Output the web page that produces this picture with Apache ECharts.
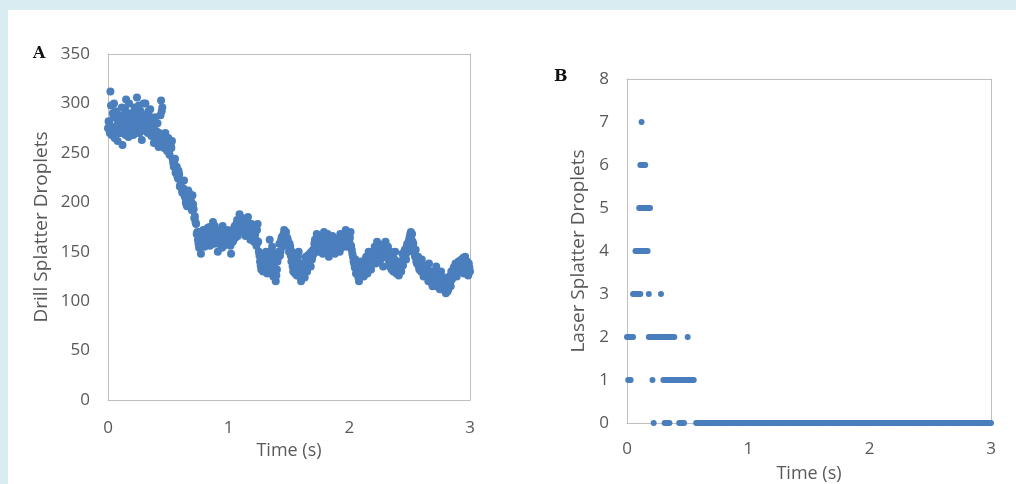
<!DOCTYPE html>
<html>
<head>
<meta charset="utf-8">
<script src="https://cdn.jsdelivr.net/npm/echarts@6/dist/echarts.min.js"></script>
<style>
html,body{margin:0;padding:0;width:1016px;height:484px;overflow:hidden;background:#d8ecf2;}
#bgw{position:absolute;left:8px;top:10px;width:1008px;height:474px;background:#ffffff;}
#chart{position:absolute;left:0;top:0;width:1016px;height:484px;}
</style>
</head>
<body>
<div id="bgw"></div>
<div id="chart"></div>
<script>
// ---------- Panel A: drill splatter droplets ----------
const drillTime = [
0.00,0.01,0.02,0.03,0.04,0.05,0.06,0.07,0.08,0.09,
0.10,0.11,0.12,0.13,0.14,0.15,0.16,0.17,0.18,0.19,
0.20,0.21,0.22,0.23,0.24,0.25,0.26,0.27,0.28,0.29,
0.30,0.31,0.32,0.33,0.34,0.35,0.36,0.37,0.38,0.39,
0.40,0.41,0.42,0.43,0.44,0.45,0.46,0.47,0.48,0.49,
0.50,0.51,0.52,0.53,0.54,0.55,0.56,0.57,0.58,0.59,
0.60,0.61,0.62,0.63,0.64,0.65,0.66,0.67,0.68,0.69,
0.70,0.71,0.72,0.73,0.74,0.75,0.76,0.77,0.78,0.79,
0.80,0.81,0.82,0.83,0.84,0.85,0.86,0.87,0.88,0.89,
0.90,0.91,0.92,0.93,0.94,0.95,0.96,0.97,0.98,0.99,
1.00,1.01,1.02,1.03,1.04,1.05,1.06,1.07,1.08,1.09,
1.10,1.11,1.12,1.13,1.14,1.15,1.16,1.17,1.18,1.19,
1.20,1.21,1.22,1.23,1.24,1.25,1.26,1.27,1.28,1.29,
1.30,1.31,1.32,1.33,1.34,1.35,1.36,1.37,1.38,1.39,
1.40,1.41,1.42,1.43,1.44,1.45,1.46,1.47,1.48,1.49,
1.50,1.51,1.52,1.53,1.54,1.55,1.56,1.57,1.58,1.59,
1.60,1.61,1.62,1.63,1.64,1.65,1.66,1.67,1.68,1.69,
1.70,1.71,1.72,1.73,1.74,1.75,1.76,1.77,1.78,1.79,
1.80,1.81,1.82,1.83,1.84,1.85,1.86,1.87,1.88,1.89,
1.90,1.91,1.92,1.93,1.94,1.95,1.96,1.97,1.98,1.99,
2.00,2.01,2.02,2.03,2.04,2.05,2.06,2.07,2.08,2.09,
2.10,2.11,2.12,2.13,2.14,2.15,2.16,2.17,2.18,2.19,
2.20,2.21,2.22,2.23,2.24,2.25,2.26,2.27,2.28,2.29,
2.30,2.31,2.32,2.33,2.34,2.35,2.36,2.37,2.38,2.39,
2.40,2.41,2.42,2.43,2.44,2.45,2.46,2.47,2.48,2.49,
2.50,2.51,2.52,2.53,2.54,2.55,2.56,2.57,2.58,2.59,
2.60,2.61,2.62,2.63,2.64,2.65,2.66,2.67,2.68,2.69,
2.70,2.71,2.72,2.73,2.74,2.75,2.76,2.77,2.78,2.79,
2.80,2.81,2.82,2.83,2.84,2.85,2.86,2.87,2.88,2.89,
2.90,2.91,2.92,2.93,2.94,2.95,2.96,2.97,2.98,2.99,
3.00
];
const drillCount = [
275,281,312,268,290,300,272,285,262,279,
270,288,258,276,295,304,283,266,290,278,
285,268,296,275,306,280,270,292,263,284,
276,300,288,270,282,294,267,278,260,286,
272,280,256,262,303,296,268,258,262,252,
265,248,258,262,240,242,230,236,224,228,
218,214,210,222,205,198,203,210,196,200,
207,193,186,178,170,158,165,148,160,172,
155,166,170,160,175,162,168,180,158,172,
164,150,170,160,166,176,156,168,162,172,
158,165,148,170,162,176,168,182,172,188,
176,184,170,180,166,174,185,170,162,178,
172,160,168,156,178,150,140,132,138,145,
135,150,128,142,162,138,155,125,148,120,
132,145,158,150,165,160,172,168,158,162,
150,155,140,135,148,128,142,132,150,125,
120,132,138,124,145,130,140,148,135,142,
152,158,162,168,150,165,155,160,148,170,
162,155,168,145,160,152,166,158,148,163,
155,160,150,165,158,168,162,172,155,166,
160,170,152,145,138,142,132,128,120,135,
140,130,125,136,145,128,150,138,132,142,
148,155,138,160,145,150,142,152,135,158,
160,148,155,140,150,132,145,138,150,128,
135,126,140,130,148,145,152,142,158,155,
165,170,168,158,148,152,138,145,132,140,
142,130,128,136,125,132,138,122,130,115,
128,120,135,118,125,112,130,122,115,120,
108,118,112,125,115,122,128,132,138,125,
135,140,130,142,137,128,145,136,132,138,
130
];
// second set of samples, taken between the ones above
const drillTime2 = [
0.005,0.015,0.025,0.035,0.045,0.055,0.065,0.075,0.085,0.095,
0.105,0.115,0.125,0.135,0.145,0.155,0.165,0.175,0.185,0.195,
0.205,0.215,0.225,0.235,0.245,0.255,0.265,0.275,0.285,0.295,
0.305,0.315,0.325,0.335,0.345,0.355,0.365,0.375,0.385,0.395,
0.405,0.415,0.425,0.435,0.445,0.455,0.465,0.475,0.485,0.495,
0.505,0.515,0.525,0.535,0.545,0.555,0.565,0.575,0.585,0.595,
0.605,0.615,0.625,0.635,0.645,0.655,0.665,0.675,0.685,0.695,
0.705,0.715,0.725,0.735,0.745,0.755,0.765,0.775,0.785,0.795,
0.805,0.815,0.825,0.835,0.845,0.855,0.865,0.875,0.885,0.895,
0.905,0.915,0.925,0.935,0.945,0.955,0.965,0.975,0.985,0.995,
1.005,1.015,1.025,1.035,1.045,1.055,1.065,1.075,1.085,1.095,
1.105,1.115,1.125,1.135,1.145,1.155,1.165,1.175,1.185,1.195,
1.205,1.215,1.225,1.235,1.245,1.255,1.265,1.275,1.285,1.295,
1.305,1.315,1.325,1.335,1.345,1.355,1.365,1.375,1.385,1.395,
1.405,1.415,1.425,1.435,1.445,1.455,1.465,1.475,1.485,1.495,
1.505,1.515,1.525,1.535,1.545,1.555,1.565,1.575,1.585,1.595,
1.605,1.615,1.625,1.635,1.645,1.655,1.665,1.675,1.685,1.695,
1.705,1.715,1.725,1.735,1.745,1.755,1.765,1.775,1.785,1.795,
1.805,1.815,1.825,1.835,1.845,1.855,1.865,1.875,1.885,1.895,
1.905,1.915,1.925,1.935,1.945,1.955,1.965,1.975,1.985,1.995,
2.005,2.015,2.025,2.035,2.045,2.055,2.065,2.075,2.085,2.095,
2.105,2.115,2.125,2.135,2.145,2.155,2.165,2.175,2.185,2.195,
2.205,2.215,2.225,2.235,2.245,2.255,2.265,2.275,2.285,2.295,
2.305,2.315,2.325,2.335,2.345,2.355,2.365,2.375,2.385,2.395,
2.405,2.415,2.425,2.435,2.445,2.455,2.465,2.475,2.485,2.495,
2.505,2.515,2.525,2.535,2.545,2.555,2.565,2.575,2.585,2.595,
2.605,2.615,2.625,2.635,2.645,2.655,2.665,2.675,2.685,2.695,
2.705,2.715,2.725,2.735,2.745,2.755,2.765,2.775,2.785,2.795,
2.805,2.815,2.825,2.835,2.845,2.855,2.865,2.875,2.885,2.895,
2.905,2.915,2.925,2.935,2.945,2.955,2.965,2.975,2.985,2.995
];
const drillCount2 = [
282,270,298,276,286,265,292,278,284,270,
280,296,274,284,268,290,276,300,272,286,
276,290,282,270,286,298,278,272,288,300,
284,272,278,292,274,286,280,270,282,264,
266,258,270,288,292,260,255,270,264,258,
252,262,255,244,236,244,232,226,232,216,
222,210,214,206,200,196,212,200,204,192,
198,184,180,168,162,154,170,158,166,162,
168,158,174,164,156,170,162,166,176,160,
168,158,162,172,154,164,170,160,166,158,
162,156,168,160,174,164,178,166,180,176,
182,172,178,168,182,176,170,178,168,174,
166,170,162,172,160,146,136,142,130,140,
140,132,146,136,150,130,142,135,130,126,
140,150,146,162,155,168,162,170,164,156,
158,146,150,130,142,136,126,145,138,130,
126,128,134,140,132,146,136,144,150,146,
148,162,156,165,160,158,164,152,166,158,
166,150,158,162,156,164,150,160,155,158,
162,152,168,154,164,160,165,158,168,164,
164,156,148,140,134,128,138,124,130,128,
134,140,132,142,130,138,144,135,146,150,
140,150,145,152,140,156,148,145,152,150,
152,144,148,135,142,140,130,142,136,130,
128,138,134,140,136,150,146,155,150,162,
168,162,160,152,145,140,142,135,138,130,
136,125,134,128,130,120,128,126,118,125,
122,130,115,124,118,126,112,118,124,112,
115,110,120,118,130,126,134,128,136,132,
140,134,138,132,144,130,135,140,126,134
];
const drillYTicks = [0,50,100,150,200,250,300,350];
const timeTicks = [0,1,2,3];

// ---------- Panel B: laser splatter droplets (times at which each count was seen) ----------
const laserLevel7 = [0.12];
const laserLevel6 = [0.11,0.12,0.13,0.14,0.15];
const laserLevel5 = [0.10,0.11,0.12,0.13,0.14,0.15,0.16,0.17,0.18,0.19];
const laserLevel4 = [0.07,0.08,0.09,0.10,0.11,0.12,0.13,0.14,0.15,0.16,0.17];
const laserLevel3 = [0.05,0.06,0.07,0.08,0.09,0.10,0.11,0.18,0.28];
const laserLevel2 = [0.00,0.01,0.02,0.03,0.04,0.05,
  0.18,0.19,0.20,0.21,0.22,0.23,0.24,0.25,0.26,0.27,0.28,0.29,0.30,0.31,0.32,0.33,0.34,0.35,0.36,0.37,0.38,0.39,
  0.50];
const laserLevel1 = [0.01,0.02,0.03,0.21,
  0.30,0.31,0.32,0.33,0.34,0.35,0.36,0.37,0.38,0.39,0.40,0.41,0.42,0.43,0.44,0.45,0.46,0.47,0.48,0.49,0.50,0.51,0.52,0.53,0.54,0.55];
const laserLevel0 = [0.22,0.31,0.32,0.33,0.34,0.35,0.43,0.44,0.45,0.46,0.47,
  0.57,0.58,0.59,0.60,0.61,0.62,0.63,0.64,0.65,0.66,0.67,0.68,0.69,
  0.70,0.71,0.72,0.73,0.74,0.75,0.76,0.77,0.78,0.79,0.80,0.81,0.82,0.83,0.84,0.85,0.86,0.87,0.88,0.89,
  0.90,0.91,0.92,0.93,0.94,0.95,0.96,0.97,0.98,0.99,1.00,1.01,1.02,1.03,1.04,1.05,1.06,1.07,1.08,1.09,
  1.10,1.11,1.12,1.13,1.14,1.15,1.16,1.17,1.18,1.19,1.20,1.21,1.22,1.23,1.24,1.25,1.26,1.27,1.28,1.29,
  1.30,1.31,1.32,1.33,1.34,1.35,1.36,1.37,1.38,1.39,1.40,1.41,1.42,1.43,1.44,1.45,1.46,1.47,1.48,1.49,
  1.50,1.51,1.52,1.53,1.54,1.55,1.56,1.57,1.58,1.59,1.60,1.61,1.62,1.63,1.64,1.65,1.66,1.67,1.68,1.69,
  1.70,1.71,1.72,1.73,1.74,1.75,1.76,1.77,1.78,1.79,1.80,1.81,1.82,1.83,1.84,1.85,1.86,1.87,1.88,1.89,
  1.90,1.91,1.92,1.93,1.94,1.95,1.96,1.97,1.98,1.99,2.00,2.01,2.02,2.03,2.04,2.05,2.06,2.07,2.08,2.09,
  2.10,2.11,2.12,2.13,2.14,2.15,2.16,2.17,2.18,2.19,2.20,2.21,2.22,2.23,2.24,2.25,2.26,2.27,2.28,2.29,
  2.30,2.31,2.32,2.33,2.34,2.35,2.36,2.37,2.38,2.39,2.40,2.41,2.42,2.43,2.44,2.45,2.46,2.47,2.48,2.49,
  2.50,2.51,2.52,2.53,2.54,2.55,2.56,2.57,2.58,2.59,2.60,2.61,2.62,2.63,2.64,2.65,2.66,2.67,2.68,2.69,
  2.70,2.71,2.72,2.73,2.74,2.75,2.76,2.77,2.78,2.79,2.80,2.81,2.82,2.83,2.84,2.85,2.86,2.87,2.88,2.89,
  2.90,2.91,2.92,2.93,2.94,2.95,2.96,2.97,2.98,2.99,3.00];
const laserLevels = [laserLevel0,laserLevel1,laserLevel2,laserLevel3,laserLevel4,laserLevel5,laserLevel6,laserLevel7];
const laserYTicks = [0,1,2,3,4,5,6,7,8];

// ---------- build ----------
const drillData = drillTime.map((t,i)=>[t, drillCount[i]])
  .concat(drillTime2.map((t,i)=>[t, drillCount2[i]]));
const laserData = [];
laserLevels.forEach((times, lvl)=>times.forEach(t=>laserData.push([t, lvl])));

const FONT = '"Open Sans", "Noto Sans", sans-serif';
const LBL = '#595959';
const AX = '#bfbfbf';
const DOT = '#4a7ebd';

function xAxis(gi, margin, gap){
  return {
    type:'value', gridIndex:gi, min:timeTicks[0], max:timeTicks[timeTicks.length-1], interval:timeTicks[1]-timeTicks[0],
    name:'Time (s)', nameLocation:'middle', nameGap:gap,
    nameTextStyle:{color:LBL, fontSize:18, fontFamily:FONT},
    axisLine:{show:true, onZero:false, lineStyle:{color:AX, width:1}},
    axisTick:{show:false}, splitLine:{show:false},
    axisLabel:{color:LBL, fontSize:17, fontFamily:FONT, margin:margin}
  };
}
function yAxis(gi, ticks, name, nameGap){
  return {
    type:'value', gridIndex:gi, min:ticks[0], max:ticks[ticks.length-1], interval:ticks[1]-ticks[0],
    name:name, nameLocation:'middle', nameGap:nameGap,
    nameTextStyle:{color:LBL, fontSize:19, fontFamily:FONT},
    axisLine:{show:true, onZero:false, lineStyle:{color:AX, width:1}},
    axisTick:{show:false}, splitLine:{show:false},
    axisLabel:{color:LBL, fontSize:17, fontFamily:FONT, margin:18}
  };
}
function frameX(gi){
  return {type:'value', gridIndex:gi, position:'top', min:0, max:1,
    axisLine:{show:true, onZero:false, lineStyle:{color:AX, width:1}},
    axisTick:{show:false}, axisLabel:{show:false}, splitLine:{show:false}};
}
function frameY(gi){
  return {type:'value', gridIndex:gi, position:'right', min:0, max:1,
    axisLine:{show:true, onZero:false, lineStyle:{color:AX, width:1}},
    axisTick:{show:false}, axisLabel:{show:false}, splitLine:{show:false}};
}

const chart = echarts.init(document.getElementById('chart'), null, {renderer:'canvas'});
chart.setOption({
  backgroundColor:'transparent',
  animation:false,
  grid:[
    {left:108, top:54, right:546, bottom:84, containLabel:false, outerBoundsMode:'none'},
    {left:627, top:79, right:25, bottom:61, containLabel:false, outerBoundsMode:'none'}
  ],
  xAxis:[xAxis(0, 20, 41), xAxis(1, 18, 42), frameX(0), frameX(1)],
  yAxis:[
    yAxis(0, drillYTicks, 'Drill Splatter Droplets', 57),
    yAxis(1, laserYTicks, 'Laser Splatter Droplets', 39),
    frameY(0), frameY(1)
  ],
  graphic:[
    {type:'text', left:33, top:46, style:{text:'A', font:'bold 16px "DejaVu Serif", "Liberation Serif", serif', fill:'#111'}},
    {type:'text', left:554, top:69, style:{text:'B', font:'bold 16px "DejaVu Serif", "Liberation Serif", serif', fill:'#111'}}
  ],
  series:[
    {type:'scatter', xAxisIndex:0, yAxisIndex:0, data:drillData, symbolSize:8, itemStyle:{color:DOT, opacity:1}},
    {type:'scatter', xAxisIndex:1, yAxisIndex:1, data:laserData, symbolSize:6, itemStyle:{color:DOT, opacity:1}}
  ]
});
</script>
</body>
</html>
